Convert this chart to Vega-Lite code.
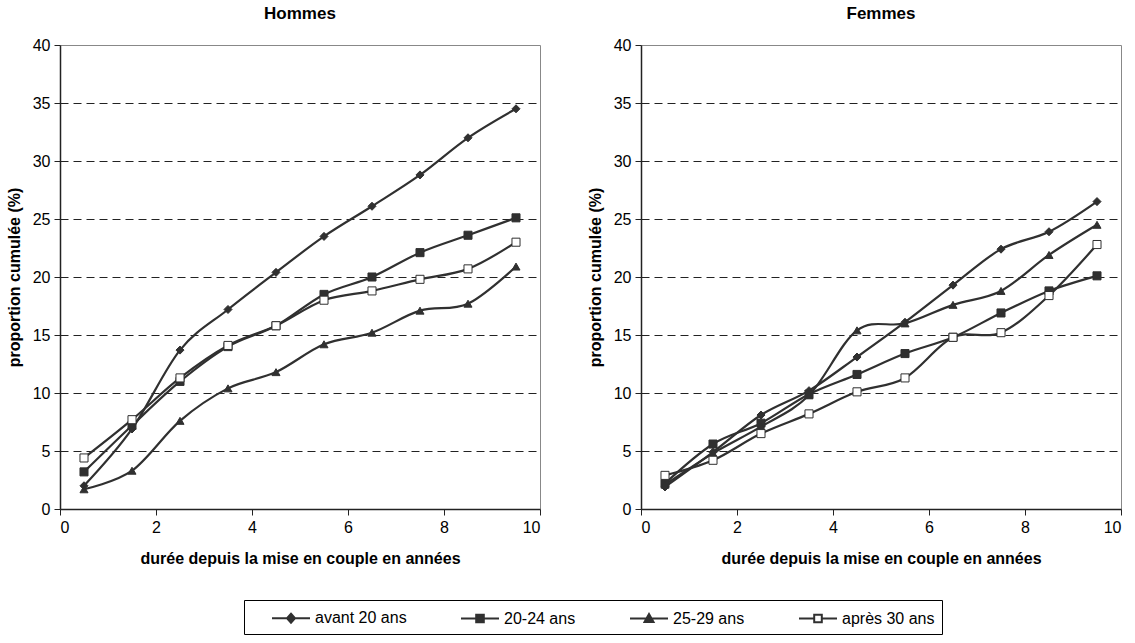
{
"$schema": "https://vega.github.io/schema/vega-lite/v6.json",
"background": "white",
"padding": {"left": 5, "top": 4, "right": 5, "bottom": 2},
"datasets": {"d": [
{"sexe":"Hommes","groupe":"avant 20 ans","duree":0.5,"proportion":2.0},
{"sexe":"Hommes","groupe":"avant 20 ans","duree":1.5,"proportion":6.9},
{"sexe":"Hommes","groupe":"avant 20 ans","duree":2.5,"proportion":13.7},
{"sexe":"Hommes","groupe":"avant 20 ans","duree":3.5,"proportion":17.2},
{"sexe":"Hommes","groupe":"avant 20 ans","duree":4.5,"proportion":20.4},
{"sexe":"Hommes","groupe":"avant 20 ans","duree":5.5,"proportion":23.5},
{"sexe":"Hommes","groupe":"avant 20 ans","duree":6.5,"proportion":26.1},
{"sexe":"Hommes","groupe":"avant 20 ans","duree":7.5,"proportion":28.8},
{"sexe":"Hommes","groupe":"avant 20 ans","duree":8.5,"proportion":32.0},
{"sexe":"Hommes","groupe":"avant 20 ans","duree":9.5,"proportion":34.5},
{"sexe":"Hommes","groupe":"20-24 ans","duree":0.5,"proportion":3.2},
{"sexe":"Hommes","groupe":"20-24 ans","duree":1.5,"proportion":7.2},
{"sexe":"Hommes","groupe":"20-24 ans","duree":2.5,"proportion":11.0},
{"sexe":"Hommes","groupe":"20-24 ans","duree":3.5,"proportion":14.0},
{"sexe":"Hommes","groupe":"20-24 ans","duree":4.5,"proportion":15.8},
{"sexe":"Hommes","groupe":"20-24 ans","duree":5.5,"proportion":18.5},
{"sexe":"Hommes","groupe":"20-24 ans","duree":6.5,"proportion":20.0},
{"sexe":"Hommes","groupe":"20-24 ans","duree":7.5,"proportion":22.1},
{"sexe":"Hommes","groupe":"20-24 ans","duree":8.5,"proportion":23.6},
{"sexe":"Hommes","groupe":"20-24 ans","duree":9.5,"proportion":25.1},
{"sexe":"Hommes","groupe":"25-29 ans","duree":0.5,"proportion":1.7},
{"sexe":"Hommes","groupe":"25-29 ans","duree":1.5,"proportion":3.3},
{"sexe":"Hommes","groupe":"25-29 ans","duree":2.5,"proportion":7.6},
{"sexe":"Hommes","groupe":"25-29 ans","duree":3.5,"proportion":10.4},
{"sexe":"Hommes","groupe":"25-29 ans","duree":4.5,"proportion":11.8},
{"sexe":"Hommes","groupe":"25-29 ans","duree":5.5,"proportion":14.2},
{"sexe":"Hommes","groupe":"25-29 ans","duree":6.5,"proportion":15.2},
{"sexe":"Hommes","groupe":"25-29 ans","duree":7.5,"proportion":17.1},
{"sexe":"Hommes","groupe":"25-29 ans","duree":8.5,"proportion":17.7},
{"sexe":"Hommes","groupe":"25-29 ans","duree":9.5,"proportion":20.9},
{"sexe":"Hommes","groupe":"après 30 ans","duree":0.5,"proportion":4.4},
{"sexe":"Hommes","groupe":"après 30 ans","duree":1.5,"proportion":7.7},
{"sexe":"Hommes","groupe":"après 30 ans","duree":2.5,"proportion":11.3},
{"sexe":"Hommes","groupe":"après 30 ans","duree":3.5,"proportion":14.1},
{"sexe":"Hommes","groupe":"après 30 ans","duree":4.5,"proportion":15.8},
{"sexe":"Hommes","groupe":"après 30 ans","duree":5.5,"proportion":18.0},
{"sexe":"Hommes","groupe":"après 30 ans","duree":6.5,"proportion":18.8},
{"sexe":"Hommes","groupe":"après 30 ans","duree":7.5,"proportion":19.8},
{"sexe":"Hommes","groupe":"après 30 ans","duree":8.5,"proportion":20.7},
{"sexe":"Hommes","groupe":"après 30 ans","duree":9.5,"proportion":23.0},
{"sexe":"Femmes","groupe":"avant 20 ans","duree":0.5,"proportion":1.9},
{"sexe":"Femmes","groupe":"avant 20 ans","duree":1.5,"proportion":4.9},
{"sexe":"Femmes","groupe":"avant 20 ans","duree":2.5,"proportion":8.1},
{"sexe":"Femmes","groupe":"avant 20 ans","duree":3.5,"proportion":10.2},
{"sexe":"Femmes","groupe":"avant 20 ans","duree":4.5,"proportion":13.1},
{"sexe":"Femmes","groupe":"avant 20 ans","duree":5.5,"proportion":16.1},
{"sexe":"Femmes","groupe":"avant 20 ans","duree":6.5,"proportion":19.3},
{"sexe":"Femmes","groupe":"avant 20 ans","duree":7.5,"proportion":22.4},
{"sexe":"Femmes","groupe":"avant 20 ans","duree":8.5,"proportion":23.9},
{"sexe":"Femmes","groupe":"avant 20 ans","duree":9.5,"proportion":26.5},
{"sexe":"Femmes","groupe":"20-24 ans","duree":0.5,"proportion":2.2},
{"sexe":"Femmes","groupe":"20-24 ans","duree":1.5,"proportion":5.6},
{"sexe":"Femmes","groupe":"20-24 ans","duree":2.5,"proportion":7.4},
{"sexe":"Femmes","groupe":"20-24 ans","duree":3.5,"proportion":9.9},
{"sexe":"Femmes","groupe":"20-24 ans","duree":4.5,"proportion":11.6},
{"sexe":"Femmes","groupe":"20-24 ans","duree":5.5,"proportion":13.4},
{"sexe":"Femmes","groupe":"20-24 ans","duree":6.5,"proportion":14.8},
{"sexe":"Femmes","groupe":"20-24 ans","duree":7.5,"proportion":16.9},
{"sexe":"Femmes","groupe":"20-24 ans","duree":8.5,"proportion":18.8},
{"sexe":"Femmes","groupe":"20-24 ans","duree":9.5,"proportion":20.1},
{"sexe":"Femmes","groupe":"25-29 ans","duree":0.5,"proportion":2.1},
{"sexe":"Femmes","groupe":"25-29 ans","duree":1.5,"proportion":4.8},
{"sexe":"Femmes","groupe":"25-29 ans","duree":2.5,"proportion":7.1},
{"sexe":"Femmes","groupe":"25-29 ans","duree":3.5,"proportion":9.8},
{"sexe":"Femmes","groupe":"25-29 ans","duree":4.5,"proportion":15.4},
{"sexe":"Femmes","groupe":"25-29 ans","duree":5.5,"proportion":16.0},
{"sexe":"Femmes","groupe":"25-29 ans","duree":6.5,"proportion":17.6},
{"sexe":"Femmes","groupe":"25-29 ans","duree":7.5,"proportion":18.8},
{"sexe":"Femmes","groupe":"25-29 ans","duree":8.5,"proportion":21.9},
{"sexe":"Femmes","groupe":"25-29 ans","duree":9.5,"proportion":24.5},
{"sexe":"Femmes","groupe":"après 30 ans","duree":0.5,"proportion":2.9},
{"sexe":"Femmes","groupe":"après 30 ans","duree":1.5,"proportion":4.2},
{"sexe":"Femmes","groupe":"après 30 ans","duree":2.5,"proportion":6.5},
{"sexe":"Femmes","groupe":"après 30 ans","duree":3.5,"proportion":8.2},
{"sexe":"Femmes","groupe":"après 30 ans","duree":4.5,"proportion":10.1},
{"sexe":"Femmes","groupe":"après 30 ans","duree":5.5,"proportion":11.3},
{"sexe":"Femmes","groupe":"après 30 ans","duree":6.5,"proportion":14.8},
{"sexe":"Femmes","groupe":"après 30 ans","duree":7.5,"proportion":15.2},
{"sexe":"Femmes","groupe":"après 30 ans","duree":8.5,"proportion":18.4},
{"sexe":"Femmes","groupe":"après 30 ans","duree":9.5,"proportion":22.8}
]},
"hconcat": [
{
 "title": {"text": "Hommes"},
 "width": 480, "height": 464,
 "data": {"name": "d"},
 "transform": [{"filter": "datum.sexe === 'Hommes'"}],
 "encoding": {
  "x": {"field": "duree", "type": "quantitative", "scale": {"domain": [0, 10], "nice": false}, "axis": {"title": "durée depuis la mise en couple en années", "values": [0,2,4,6,8,10], "grid": false}},
  "y": {"field": "proportion", "type": "quantitative", "scale": {"domain": [0, 40], "nice": false}, "axis": {"title": "proportion cumulée (%)", "values": [0,5,10,15,20,25,30,35,40], "grid": true, "gridOpacity": {"condition": {"test": "datum.value == 0 || datum.value == 40", "value": 0}, "value": 1}}}
 },
 "layer": [
  {"mark": {"type": "line", "interpolate": "cardinal", "color": "#303030", "strokeWidth": 2.2}, "encoding": {"detail": {"field": "groupe", "type": "nominal"}}},
  {"transform": [{"filter": "datum.groupe === 'avant 20 ans'"}], "mark": {"type": "point", "shape": "diamond", "filled": true, "fill": "#303030", "stroke": "#303030", "strokeWidth": 1, "size": 65, "opacity": 1}},
  {"transform": [{"filter": "datum.groupe === '20-24 ans'"}], "mark": {"type": "point", "shape": "square", "filled": true, "fill": "#303030", "stroke": "#303030", "strokeWidth": 1, "size": 65, "opacity": 1}},
  {"transform": [{"filter": "datum.groupe === '25-29 ans'"}], "mark": {"type": "point", "shape": "triangle-up", "filled": true, "fill": "#303030", "stroke": "#303030", "strokeWidth": 1, "size": 65, "opacity": 1}},
  {"transform": [{"filter": "datum.groupe === 'après 30 ans'"}], "mark": {"type": "point", "shape": "square", "filled": true, "fill": "#ffffff", "stroke": "#303030", "strokeWidth": 1, "size": 65, "opacity": 1}},
  {"mark": {"type": "point", "size": 0, "strokeWidth": 2, "opacity": 1},
   "encoding": {
    "shape": {"field": "groupe", "type": "nominal", "scale": {"domain": ["avant 20 ans","20-24 ans","25-29 ans","après 30 ans"], "range": ["M-1.9,0L1.9,0M0,-0.45L0.4,0L0,0.45L-0.4,0Z", "M-1.9,0L1.9,0M-0.38,-0.38L0.38,-0.38L0.38,0.38L-0.38,0.38Z", "M-1.9,0L1.9,0M0,-0.45L0.45,0.35L-0.45,0.35Z", "M-1.9,0L-0.38,0M0.38,0L1.9,0M-0.38,-0.38L0.38,-0.38L0.38,0.38L-0.38,0.38Z"]}},
    "fill": {"field": "groupe", "type": "nominal", "scale": {"domain": ["avant 20 ans","20-24 ans","25-29 ans","après 30 ans"], "range": ["#303030","#303030","#303030","#ffffff"]}},
    "stroke": {"field": "groupe", "type": "nominal", "scale": {"domain": ["avant 20 ans","20-24 ans","25-29 ans","après 30 ans"], "range": ["#303030","#303030","#303030","#303030"]}}
   }}
 ]
},
{
 "title": {"text": "Femmes"},
 "width": 480, "height": 464,
 "data": {"name": "d"},
 "transform": [{"filter": "datum.sexe === 'Femmes'"}],
 "encoding": {
  "x": {"field": "duree", "type": "quantitative", "scale": {"domain": [0, 10], "nice": false}, "axis": {"title": "durée depuis la mise en couple en années", "values": [0,2,4,6,8,10], "grid": false}},
  "y": {"field": "proportion", "type": "quantitative", "scale": {"domain": [0, 40], "nice": false}, "axis": {"title": "proportion cumulée (%)", "values": [0,5,10,15,20,25,30,35,40], "grid": true, "gridOpacity": {"condition": {"test": "datum.value == 0 || datum.value == 40", "value": 0}, "value": 1}}}
 },
 "layer": [
  {"mark": {"type": "line", "interpolate": "cardinal", "color": "#303030", "strokeWidth": 2.2}, "encoding": {"detail": {"field": "groupe", "type": "nominal"}}},
  {"transform": [{"filter": "datum.groupe === 'avant 20 ans'"}], "mark": {"type": "point", "shape": "diamond", "filled": true, "fill": "#303030", "stroke": "#303030", "strokeWidth": 1, "size": 65, "opacity": 1}},
  {"transform": [{"filter": "datum.groupe === '20-24 ans'"}], "mark": {"type": "point", "shape": "square", "filled": true, "fill": "#303030", "stroke": "#303030", "strokeWidth": 1, "size": 65, "opacity": 1}},
  {"transform": [{"filter": "datum.groupe === '25-29 ans'"}], "mark": {"type": "point", "shape": "triangle-up", "filled": true, "fill": "#303030", "stroke": "#303030", "strokeWidth": 1, "size": 65, "opacity": 1}},
  {"transform": [{"filter": "datum.groupe === 'après 30 ans'"}], "mark": {"type": "point", "shape": "square", "filled": true, "fill": "#ffffff", "stroke": "#303030", "strokeWidth": 1, "size": 65, "opacity": 1}}
 ]
}
],
"spacing": 45,
"config": {
 "font": "Liberation Sans",
 "view": {"stroke": "#888888", "strokeWidth": 1},
 "title": {"fontSize": 17, "fontWeight": "bold", "color": "black", "offset": 14},
 "axis": {"labelFontSize": 16, "labelColor": "black", "titleFontSize": 16, "titleFontWeight": "bold", "titleColor": "black", "domainColor": "#222222", "domainWidth": 1.5, "tickColor": "#222222", "tickSize": 6, "gridColor": "#222222", "gridDash": [8, 5], "gridWidth": 1, "labelPadding": 4},
 "axisY": {"titlePadding": 10},
 "axisX": {"titlePadding": 15},
 "legend": {
  "title": null,
  "orient": "none",
  "legendX": 184,
  "legendY": 555,
  "direction": "horizontal",
  "columns": 4,
  "columnPadding": 33,
  "strokeColor": "black",
  "padding": 7,
  "symbolOffset": 29,
  "labelFontSize": 16,
  "labelColor": "black",
  "labelOffset": 13,
  "symbolSize": 400,
  "symbolStrokeWidth": 2,
  "symbolOpacity": 1
 }
}
}
